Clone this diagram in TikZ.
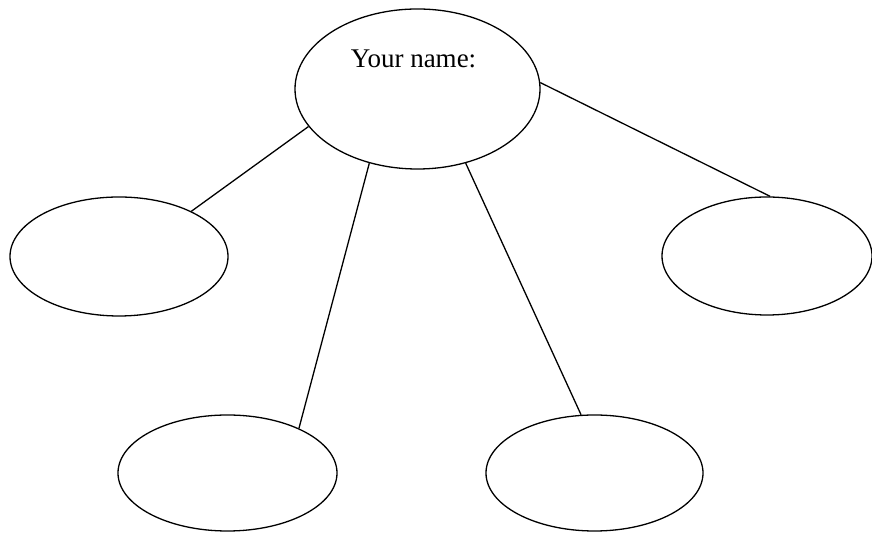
\documentclass[tikz,border=0pt]{standalone}
\usepackage{fontspec}
\setmainfont{Liberation Serif}
\usetikzlibrary{shapes.geometric}
\begin{document}
\begin{tikzpicture}[x=1pt,y=1pt,
  bubble/.style={draw=black, line width=1.3pt, ellipse, inner sep=0pt},
  link/.style={draw=black, line width=1.3pt}]
\useasboundingbox (0,0) rectangle (872,534);
\fill[white] (0,0) rectangle (872,534);
\node[bubble, minimum width=245pt, minimum height=160pt] (top) at (417.5,445) {};
\node[bubble, minimum width=218pt, minimum height=119pt] (left) at (119,277.5) {};
\node[bubble, minimum width=210pt, minimum height=118pt] (right) at (767,278) {};
\node[bubble, minimum width=219pt, minimum height=116pt] (bl) at (227.5,61) {};
\node[bubble, minimum width=217pt, minimum height=116pt] (br) at (594.5,61) {};
\node[anchor=base, font=\fontsize{27}{32}\selectfont, inner sep=0pt] (label) at (413.5,466) {Your name:};
\draw[link] (top.199) -- (left.32.8);
\draw[link] (top.237.7) -- (bl.32.7);
\draw[link] (top.303.4) -- (br.103.3);
\draw[link] (top.3.3) -- (right.87);
\end{tikzpicture}
\end{document}
